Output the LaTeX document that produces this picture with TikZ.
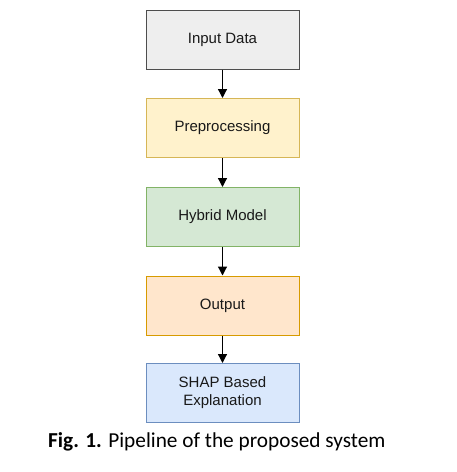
\documentclass[tikz,border=0pt]{standalone}
\usepackage{fontspec}
\setmainfont{Liberation Sans}
\newfontfamily\capfont{Carlito}
\usetikzlibrary{arrows.meta}
\definecolor{gfill}{HTML}{EEEEEE}\definecolor{gdraw}{HTML}{4D4D4D}
\definecolor{yfill}{HTML}{FFF2CC}\definecolor{ydraw}{HTML}{D6B656}
\definecolor{grfill}{HTML}{D5E8D4}\definecolor{grdraw}{HTML}{82B366}
\definecolor{ofill}{HTML}{FFE6CC}\definecolor{odraw}{HTML}{D79B00}
\definecolor{bfill}{HTML}{DAE8FC}\definecolor{bdraw}{HTML}{6C8EBF}
\begin{document}
\begin{tikzpicture}[x=1pt,y=-1pt,
  stagebox/.style={draw, line width=1pt, minimum width=153pt, minimum height=59pt,
    inner sep=0pt, align=center, font=\fontsize{15}{18}\selectfont, text=black!90},
  flowarrow/.style={-{Triangle[length=9pt,width=9pt]}, line width=1.2pt, black}]
\useasboundingbox (0,0) rectangle (456,472);
\node[stagebox, fill=gfill, draw=gdraw] (inp) at (222.5,39.5) {Input Data};
\node[stagebox, fill=yfill, draw=ydraw] (pre) at (222.5,128) {Preprocessing};
\node[stagebox, fill=grfill, draw=grdraw] (hyb) at (222.5,217) {Hybrid Model};
\node[stagebox, fill=ofill, draw=odraw] (out) at (222.5,305.5) {Output};
\node[stagebox, fill=bfill, draw=bdraw] (shap) at (222.5,393) {SHAP Based\\Explanation};
\draw[flowarrow] (inp) -- (pre);
\draw[flowarrow] (pre) -- (hyb);
\draw[flowarrow] (hyb) -- (out);
\draw[flowarrow] (out) -- (shap);
\node[font=\capfont\fontsize{21.3}{24}\selectfont, anchor=base west, inner sep=0pt] (cap) at (48,447) {\textbf{Fig. 1.} Pipeline of the proposed system};
\end{tikzpicture}
\end{document}
